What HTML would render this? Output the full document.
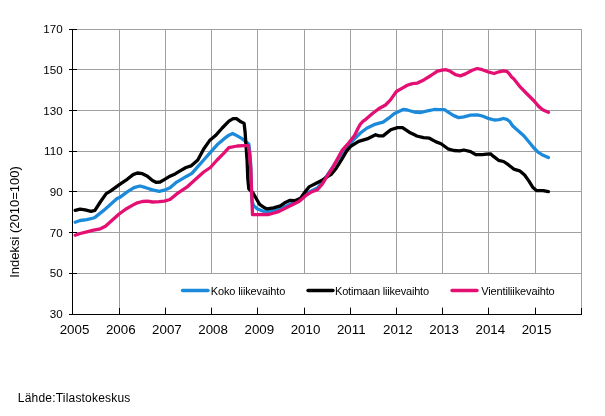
<!DOCTYPE html>
<html><head><meta charset="utf-8"><title>Liikevaihto</title>
<style>
html,body{margin:0;padding:0;background:#fff}
body{width:605px;height:416px;position:relative;overflow:hidden;font-family:"Liberation Sans",Arial,sans-serif;color:#000}
.yl,.xl,.lg,.src,.yt{filter:grayscale(1)}
.yl{position:absolute;left:30px;width:32.6px;text-align:right;font-size:11.6px;line-height:14px;height:14px}
.xl{position:absolute;top:321.5px;width:40px;text-align:left;font-size:13.33px;line-height:16px}
.lg{position:absolute;top:284px;font-size:11px;letter-spacing:-0.13px;line-height:14px;white-space:nowrap}
.src{position:absolute;left:17.8px;top:391px;font-size:12px;letter-spacing:0.2px;line-height:14px;white-space:nowrap}
.yt{position:absolute;left:15px;top:222px;width:0;height:0}
.yt span{position:absolute;left:-60px;top:-7px;width:120px;height:14px;line-height:14px;text-align:center;font-size:13px;white-space:nowrap;transform:rotate(-90deg);display:block}
</style></head><body>
<svg width="605" height="416" viewBox="0 0 605 416" style="position:absolute;left:0;top:0">
<rect width="605" height="416" fill="#fff"/>
<g shape-rendering="crispEdges">
<rect x="73" y="29" width="509" height="1" fill="#a0a0a0"/>
<rect x="73" y="69" width="509" height="1" fill="#a0a0a0"/>
<rect x="73" y="110" width="509" height="1" fill="#a0a0a0"/>
<rect x="73" y="151" width="509" height="1" fill="#a0a0a0"/>
<rect x="73" y="191" width="509" height="1" fill="#a0a0a0"/>
<rect x="73" y="232" width="509" height="1" fill="#a0a0a0"/>
<rect x="73" y="273" width="509" height="1" fill="#a0a0a0"/>
<rect x="119" y="29" width="1" height="285" fill="#a0a0a0"/>
<rect x="165" y="29" width="1" height="285" fill="#a0a0a0"/>
<rect x="211" y="29" width="1" height="285" fill="#a0a0a0"/>
<rect x="257" y="29" width="1" height="285" fill="#a0a0a0"/>
<rect x="304" y="29" width="1" height="285" fill="#a0a0a0"/>
<rect x="350" y="29" width="1" height="285" fill="#a0a0a0"/>
<rect x="396" y="29" width="1" height="285" fill="#a0a0a0"/>
<rect x="442" y="29" width="1" height="285" fill="#a0a0a0"/>
<rect x="488" y="29" width="1" height="285" fill="#a0a0a0"/>
<rect x="535" y="29" width="1" height="285" fill="#a0a0a0"/>
<rect x="581" y="29" width="1" height="285" fill="#a0a0a0"/>
</g>
<g fill="none" stroke-width="3.3" stroke-linejoin="round" stroke-linecap="round">
<polyline stroke="#1c8adb" points="75.2,222.2 80.1,220.5 86.8,219.7 93.6,218.0 95.3,217.1 103.7,210.4 110.4,204.5 117.1,198.6 120.5,196.9 127.2,191.9 134.0,187.7 139.9,186.0 145.8,187.7 152.5,189.9 159.2,191.4 164.3,190.2 170.0,187.7 176.7,182.1 186.8,176.2 191.9,173.4 197.8,166.7 203.7,160.0 210.4,152.4 217.1,144.8 223.9,138.9 228.9,135.2 232.6,133.5 237.3,135.9 242.4,138.9 246.6,142.3 248.8,144.0 250.0,154.1 250.8,165.9 251.3,190.6 252.3,202.3 253.7,205.7 257.2,208.7 262.6,211.1 270.0,211.6 271.9,210.8 278.7,209.5 287.1,205.8 293.8,202.4 300.6,199.9 307.3,193.1 312.3,190.6 317.4,188.1 322.4,182.2 325.1,178.5 331.8,168.4 338.5,158.3 345.3,148.2 352.0,141.4 360.4,133.0 367.1,128.0 375.6,124.1 383.1,122.1 389.0,117.9 394.1,113.7 397.2,112.2 403.1,109.5 407.3,110.0 414.1,112.0 420.8,112.5 427.5,110.9 434.3,109.5 439.4,109.6 444.4,109.6 448.6,112.3 453.7,115.6 458.7,117.6 463.8,116.8 470.5,115.1 477.2,114.8 482.3,116.0 487.3,118.1 494.2,120.0 499.2,119.7 503.4,118.5 506.8,119.3 510.0,121.8 512.8,126.1 518.7,131.2 523.8,135.7 528.8,141.8 533.9,148.0 538.1,152.2 543.1,155.3 548.4,157.6"/>
<polyline stroke="#000" points="75.2,210.4 80.1,209.2 85.2,209.9 91.0,211.3 94.9,210.4 100.3,202.0 106.2,193.6 110.4,191.1 119.7,184.3 127.2,179.3 133.1,174.6 137.3,173.0 142.4,173.7 147.4,176.2 152.5,180.6 155.9,182.3 160.1,182.0 164.3,179.6 170.0,176.2 175.1,173.9 180.1,170.9 186.0,167.5 191.0,165.9 197.8,160.0 203.7,149.0 209.6,140.6 215.5,135.6 222.2,128.0 228.9,121.2 233.1,118.7 236.5,118.7 239.9,121.2 244.1,123.4 245.1,132.2 245.9,144.0 247.1,160.8 247.8,178.8 248.8,188.9 252.8,192.7 256.2,198.5 259.6,204.4 264.6,207.9 266.9,208.8 273.6,207.9 280.4,205.8 285.4,202.4 289.6,200.4 294.7,200.7 300.6,198.2 304.8,192.3 309.0,186.9 315.7,183.5 321.6,180.5 326.6,177.1 330.9,174.6 335.9,168.7 341.9,159.1 346.9,150.7 351.1,146.0 358.7,141.4 367.1,138.9 375.6,134.7 378.9,135.9 383.1,135.9 390.7,129.7 397.4,127.6 402.5,127.6 409.2,132.2 416.0,135.6 416.7,136.0 423.5,137.7 429.4,138.2 436.1,141.9 441.1,143.7 447.9,148.8 453.8,150.5 459.7,150.8 463.9,150.0 470.6,151.6 475.7,154.7 482.4,154.7 486.6,154.2 490.5,153.8 493.5,156.4 498.5,160.3 503.6,161.5 508.6,164.9 513.7,169.1 519.6,170.8 524.6,175.0 528.8,180.9 533.0,187.6 536.4,190.5 543.1,190.6 548.4,191.6"/>
<polyline stroke="#e30f72" points="75.2,235.3 80.1,233.5 86.8,231.8 93.6,230.1 100.3,228.8 105.4,226.2 112.1,220.3 118.8,214.3 125.6,209.2 132.3,205.4 137.3,202.8 142.4,201.5 147.4,201.2 152.5,202.0 159.2,201.7 164.3,201.2 170.0,199.5 176.7,193.9 186.8,187.2 195.3,179.6 203.7,172.0 210.4,167.5 217.1,160.0 223.9,153.2 228.9,147.7 237.3,146.0 244.1,145.7 248.3,145.7 249.5,154.1 250.8,169.2 251.6,190.6 252.5,214.6 268.6,214.5 278.7,211.6 288.8,206.6 298.9,201.5 305.6,195.7 310.7,192.3 317.4,189.8 322.4,183.9 327.5,175.5 332.5,167.9 341.9,150.7 348.6,143.1 354.5,135.6 357.9,128.5 360.4,124.1 362.9,121.4 365.5,119.6 372.2,113.7 373.7,112.5 378.7,108.8 385.5,105.0 390.5,99.9 396.4,91.5 402.3,88.1 407.3,85.3 412.4,83.6 417.4,83.1 424.2,79.7 430.9,75.5 436.0,72.1 436.8,71.3 441.9,70.2 446.1,69.7 450.3,71.3 455.4,74.7 460.4,75.9 465.5,73.9 472.2,70.2 477.2,68.5 482.3,69.7 489.0,72.2 494.1,73.5 499.1,71.8 503.3,70.8 506.7,71.3 508.6,72.9 511.8,77.2 513.7,78.8 520.4,87.2 527.1,94.0 533.9,100.7 538.9,106.6 543.1,110.0 548.4,112.3"/>
</g>
<g shape-rendering="crispEdges">
<rect x="140" y="274" width="441" height="33" fill="#fff"/>
<rect x="72" y="29" width="1" height="286" fill="#000"/>
<rect x="69" y="314" width="513" height="1" fill="#000"/>
<rect x="69" y="29" width="8" height="1" fill="#000"/>
<rect x="69" y="69" width="8" height="1" fill="#000"/>
<rect x="69" y="110" width="8" height="1" fill="#000"/>
<rect x="69" y="151" width="8" height="1" fill="#000"/>
<rect x="69" y="191" width="8" height="1" fill="#000"/>
<rect x="69" y="232" width="8" height="1" fill="#000"/>
<rect x="69" y="273" width="8" height="1" fill="#000"/>
<rect x="119" y="308" width="1" height="6" fill="#000"/>
<rect x="165" y="308" width="1" height="6" fill="#000"/>
<rect x="211" y="308" width="1" height="6" fill="#000"/>
<rect x="257" y="308" width="1" height="6" fill="#000"/>
<rect x="304" y="308" width="1" height="6" fill="#000"/>
<rect x="350" y="308" width="1" height="6" fill="#000"/>
<rect x="396" y="308" width="1" height="6" fill="#000"/>
<rect x="442" y="308" width="1" height="6" fill="#000"/>
<rect x="488" y="308" width="1" height="6" fill="#000"/>
<rect x="535" y="308" width="1" height="6" fill="#000"/>
<rect x="581" y="308" width="1" height="6" fill="#000"/>
</g>
<g fill="none" stroke-width="3.3" stroke-linecap="round">
<line x1="182.5" y1="290.5" x2="208" y2="290.5" stroke="#1c8adb"/>
<line x1="308" y1="290.5" x2="333" y2="290.5" stroke="#000"/>
<line x1="452" y1="290.5" x2="477" y2="290.5" stroke="#e30f72"/>
</g>
</svg>
<div class="yl" style="top:22px">170</div>
<div class="yl" style="top:63px">150</div>
<div class="yl" style="top:104px">130</div>
<div class="yl" style="top:144px">110</div>
<div class="yl" style="top:185px">90</div>
<div class="yl" style="top:226px">70</div>
<div class="yl" style="top:266px">50</div>
<div class="yl" style="top:307px">30</div>
<div class="xl" style="left:59.7px">2005</div>
<div class="xl" style="left:105.9px">2006</div>
<div class="xl" style="left:152.1px">2007</div>
<div class="xl" style="left:198.3px">2008</div>
<div class="xl" style="left:244.5px">2009</div>
<div class="xl" style="left:290.7px">2010</div>
<div class="xl" style="left:336.9px">2011</div>
<div class="xl" style="left:383.1px">2012</div>
<div class="xl" style="left:429.3px">2013</div>
<div class="xl" style="left:475.5px">2014</div>
<div class="xl" style="left:521.7px">2015</div>
<div class="lg" style="left:210.8px">Koko liikevaihto</div>
<div class="lg" style="left:335px;letter-spacing:-0.2px">Kotimaan liikevaihto</div>
<div class="lg" style="left:481.2px">Vientiliikevaihto</div>
<div class="yt"><span>Indeksi (2010=100)</span></div>
<div class="src">Lähde:Tilastokeskus</div>
</body></html>
